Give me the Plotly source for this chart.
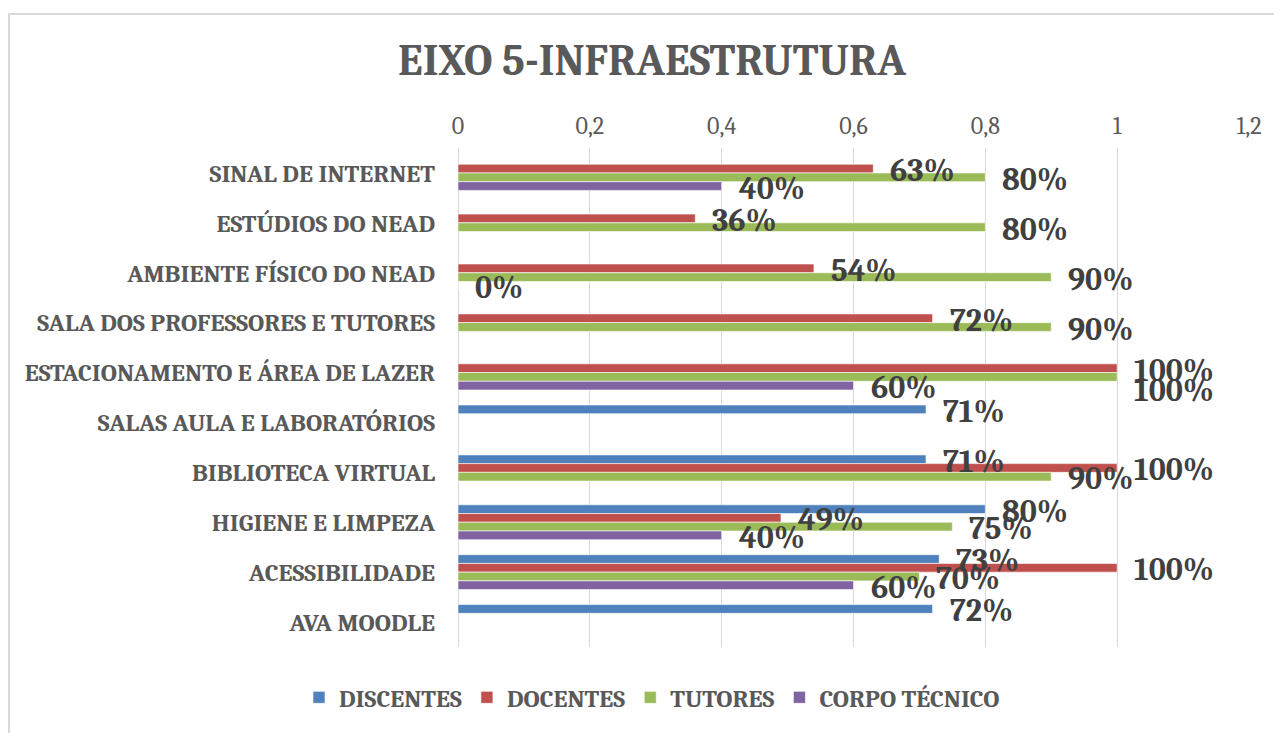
import plotly.graph_objects as go

# categorias de cima para baixo (eixo invertido, como no Excel)
categorias = ["SINAL DE INTERNET", "ESTÚDIOS DO NEAD", "AMBIENTE FÍSICO DO NEAD",
              "SALA DOS PROFESSORES E TUTORES", "ESTACIONAMENTO E ÁREA DE LAZER",
              "SALAS AULA E LABORATÓRIOS", "BIBLIOTECA VIRTUAL", "HIGIENE E LIMPEZA",
              "ACESSIBILIDADE", "AVA MOODLE"]

discentes = [None, None, None, None, None, 0.71, 0.71, 0.80, 0.73, 0.72]
docentes = [0.63, 0.36, 0.54, 0.72, 1.00, None, 1.00, 0.49, 1.00, None]
tutores = [0.80, 0.80, 0.90, 0.90, 1.00, None, 0.90, 0.75, 0.70, None]
corpo_tecnico = [0.40, None, 0.0, None, 0.60, None, None, 0.40, 0.60, None]

series = [("DISCENTES", discentes, "#4F81BD"),
          ("DOCENTES", docentes, "#C0504D"),
          ("TUTORES", tutores, "#9BBB59"),
          ("CORPO TÉCNICO", corpo_tecnico, "#8064A2")]

# rótulo que foi arrastado para baixo no gráfico original (px)
ajuste_rotulo = {("ESTACIONAMENTO E ÁREA DE LAZER", "TUTORES"): -12}

SERIF = "Cambria, Caladea, Liberation Serif, serif"
GRAY = "#595959"
BARGAP = 0.3

# a página tem 8px de margem no body
OFF = 8
W, H = 1274, 725
L, R, T, B = 450, 33, 140, 82
pw, ph = W - L - R, H - T - B


def px(s):
    return (s - OFF - L) / pw


def py(s):
    return (H - B - (s - OFF)) / ph


fig = go.Figure()
for nome, valores, cor in series:
    fig.add_trace(go.Bar(
        y=categorias, x=valores, name=nome, orientation="h",
        marker=dict(color=cor, line=dict(color="white", width=0.6)),
        hoverinfo="x+y+name",
    ))

# rótulos de dados como anotações, por cima de todas as barras
passo = ph / len(categorias)
barra = passo * (1 - BARGAP) / len(series)
anotacoes = []
for i, (nome, valores, cor) in enumerate(series):
    for cat, v in zip(categorias, valores):
        if v is None:
            continue
        desloc = (i - (len(series) - 1) / 2) * barra + 2
        anotacoes.append(dict(
            x=v, y=cat, xref="x", yref="y", text=f"{round(v * 100)}%",
            showarrow=False, xanchor="left", yanchor="middle",
            xshift=15, yshift=-desloc + ajuste_rotulo.get((cat, nome), 0),
            font=dict(family=SERIF, size=32, color="#404040", weight="bold"),
        ))

fig.update_layout(
    width=W, height=H,
    margin=dict(l=L, r=R, t=T, b=B),
    paper_bgcolor="white", plot_bgcolor="white",
    barmode="group", bargap=BARGAP, bargroupgap=0,
    separators=",.",
    title=dict(text="<b>EIXO 5-INFRAESTRUTURA</b>", x=px(652), xref="paper",
               xanchor="center", y=1 - (60 - OFF) / H, yref="container", yanchor="middle",
               font=dict(family=SERIF, size=44, color=GRAY)),
    legend=dict(orientation="h", x=px(652), xanchor="center", y=py(702), yanchor="middle",
                font=dict(family=SERIF, size=25, color=GRAY, weight="bold"),
                traceorder="normal", itemwidth=30),
    showlegend=True,
    annotations=anotacoes,
    shapes=[dict(type="rect", xref="paper", yref="paper",
                 x0=px(9), x1=px(1300), y0=py(745), y1=py(13),
                 line=dict(color="#D9D9D9", width=2), layer="below")],
)

fig.update_xaxes(
    range=[0, 1.2], dtick=0.2, side="top", showgrid=True, gridcolor="#D9D9D9",
    gridwidth=1, zeroline=True, zerolinecolor="#D9D9D9", zerolinewidth=1,
    showline=False, tickformat="~r",
    tickfont=dict(family=SERIF, size=24, color=GRAY), ticklabelstandoff=8,
)
fig.update_yaxes(
    range=[len(categorias) - 0.5, -0.5], autorange=False,
    showgrid=False, showline=False,
    ticks="outside", ticklen=17, tickcolor="rgba(0,0,0,0)",
    tickfont=dict(family=SERIF, size=25, color=GRAY, weight="bold"),
)

fig.write_html("out.html")
